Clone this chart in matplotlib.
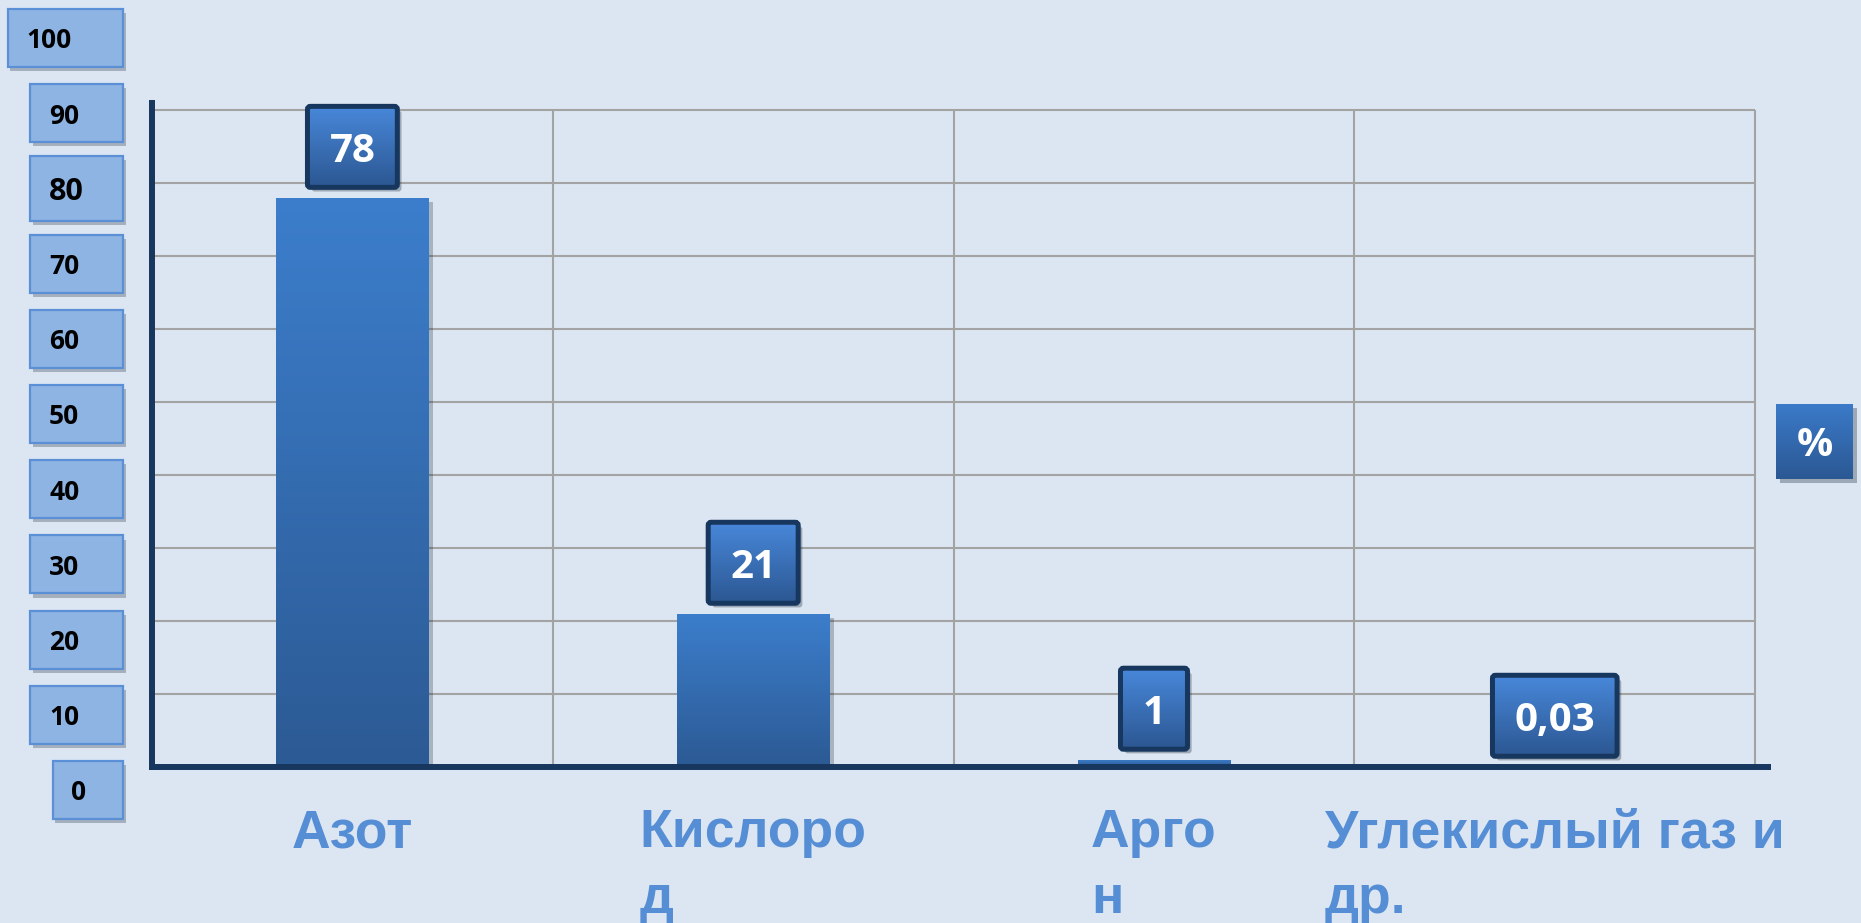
import numpy as np
import matplotlib
matplotlib.use('Agg')
import matplotlib.pyplot as plt
from matplotlib.patches import Rectangle, FancyBboxPatch
from matplotlib.colors import LinearSegmentedColormap
import matplotlib.patheffects as pe

# data
categories = ['Азот', 'Кислоро\nд', 'Арго\nн', 'Углекислый газ и\nдр.']
values = [78, 21, 1, 0.03]
value_labels = ['78', '21', '1', '0,03']
scale_labels = [100, 90, 80, 70, 60, 50, 40, 30, 20, 10, 0]
grid_levels = [10, 20, 30, 40, 50, 60, 70, 80, 90]
unit_label = '%'

W, H = 1861, 923
bg = '#DCE6F2'
navy = '#17375E'
label_blue = '#558ED5'
num_font = 'Open Sans'

fig = plt.figure(figsize=(W / 100, H / 100), dpi=100, facecolor=bg)

# main chart area
ax = fig.add_axes([152 / W, (H - 767) / H, 1616 / W, 664 / H])
ax.set_facecolor(bg)
xlim = (-0.5, 3.532)
ylim = (0, 91)

# overlay axes working in figure pixels (for boxes)
pix = fig.add_axes([0, 0, 1, 1], zorder=5)
pix.set_xlim(0, W)
pix.set_ylim(0, H)
pix.axis('off')
pix.patch.set_alpha(0)

# helper axes that places the decorative scale boxes on the left
scale_ax = fig.add_axes([0, (H - 790) / H, 1, (790 - 38) / H])
scale_ax.set_ylim(0, 100)
scale_ax.axis('off')


def shade(target, x0, y0, w, h, top, bottom, edge=None, lw=0, rounding=0,
          shadow=True, z=2):
    if rounding:
        shape = FancyBboxPatch((x0, y0), w, h,
                               boxstyle=f'round,pad=0,rounding_size={rounding}')
    else:
        shape = Rectangle((x0, y0), w, h)
    shape.set_facecolor(bottom)
    shape.set_edgecolor('none')
    shape.set_zorder(z)
    if shadow:
        shape.set_path_effects([pe.SimplePatchShadow(offset=(3, -3), alpha=0.3),
                                pe.Normal()])
    target.add_patch(shape)
    g = np.linspace(0, 1, 256).reshape(-1, 1)
    cmap = LinearSegmentedColormap.from_list('g', [bottom, top])
    im = target.imshow(g, extent=[x0, x0 + w, y0, y0 + h], origin='lower',
                       cmap=cmap, aspect='auto', zorder=z + 0.1,
                       interpolation='bilinear')
    im.set_clip_path(shape)
    if edge:
        target.add_patch(FancyBboxPatch((x0, y0), w, h,
                                        boxstyle=f'round,pad=0,rounding_size={rounding}',
                                        fill=False, edgecolor=edge, lw=lw,
                                        zorder=z + 0.2))
    return shape


# grid
x = np.arange(len(categories))
ax.hlines(grid_levels, -0.5, 3.5, color='#A3A3A3', lw=1.5, zorder=1)
ax.vlines(x + 0.5, 0, max(grid_levels), color='#A3A3A3', lw=1.5, zorder=1)

# bars with vertical gradient
bars = ax.bar(x, values, width=0.38, color='#2C5A94', zorder=2)
for b in bars:
    b.set_path_effects([pe.SimplePatchShadow(offset=(3, -3), alpha=0.25), pe.Normal()])
    g = np.linspace(0, 1, 256).reshape(-1, 1)
    cmap = LinearSegmentedColormap.from_list('bar', ['#2C5A94', '#3C7ECC'])
    im = ax.imshow(g, extent=[b.get_x(), b.get_x() + b.get_width(), 0, b.get_height()],
                   origin='lower', cmap=cmap, aspect='auto', zorder=2.1,
                   interpolation='bilinear')
    im.set_clip_path(b)

ax.set_xlim(*xlim)
ax.set_ylim(*ylim)
ax.set_xticks([])
ax.set_yticks([])
for s in ['top', 'right']:
    ax.spines[s].set_visible(False)
for s in ['left', 'bottom']:
    ax.spines[s].set_color(navy)
    ax.spines[s].set_linewidth(4.3)
    ax.spines[s].set_capstyle('projecting')
    ax.spines[s].set_zorder(4)

# category labels (first line top ~41 px under the baseline)
for i, c in enumerate(categories):
    ax.annotate(c, xy=(i, 0), xytext=(0, -41), textcoords='offset pixels',
                ha='center', va='top', multialignment='left',
                fontsize=38.5, fontweight='bold', family='Liberation Sans',
                color=label_blue, linespacing=1.4, annotation_clip=False)

renderer = fig.canvas.get_renderer()


def to_pix(a, xy):
    return pix.transData.inverted().transform(a.transData.transform(xy))


# value boxes above the bars
for i, (v, lab) in enumerate(zip(values, value_labels)):
    cx, top = to_pix(ax, (i, v))
    cy = top + 51
    t = pix.text(cx, cy, lab, ha='center', va='center_baseline', color='white',
                 fontsize=29, fontweight='bold', family=num_font, zorder=10)
    w = t.get_window_extent(renderer).width + 44
    h = 81
    shade(pix, cx - w / 2, cy - h / 2, w, h, '#4888DA', '#2C5792',
          edge=navy, lw=3.6, rounding=3, z=6)

# decorative scale boxes on the left
for v in scale_labels:
    _, cy = to_pix(scale_ax, (0, v))
    big = v == 80
    n = len(str(v))
    w = 48 + 22.5 * n
    h = 65 if big else 58
    right = 123
    box = FancyBboxPatch((right - w, cy - h / 2), w, h,
                         boxstyle='square,pad=0', facecolor='#8EB4E3',
                         edgecolor='#5B8FD6', lw=1.6, zorder=6)
    box.set_path_effects([pe.SimplePatchShadow(offset=(2, -3), alpha=0.3), pe.Normal()])
    pix.add_patch(box)
    pix.text(right - w + 19, cy, str(v), ha='left', va='center_baseline',
             fontsize=22 if big else 19, fontweight='bold', family=num_font,
             color='black', zorder=7)

# unit box on the right
ux, uy = 1814.5, H - 441.5
shade(pix, ux - 38.5, uy - 37.5, 77, 75, '#3B7AC9', '#2B5893', z=6)
pix.text(ux, uy, unit_label, ha='center', va='center_baseline', color='white',
         fontsize=29, fontweight='bold', family=num_font, zorder=10)

fig.savefig('out.png', dpi=100, facecolor=bg)
